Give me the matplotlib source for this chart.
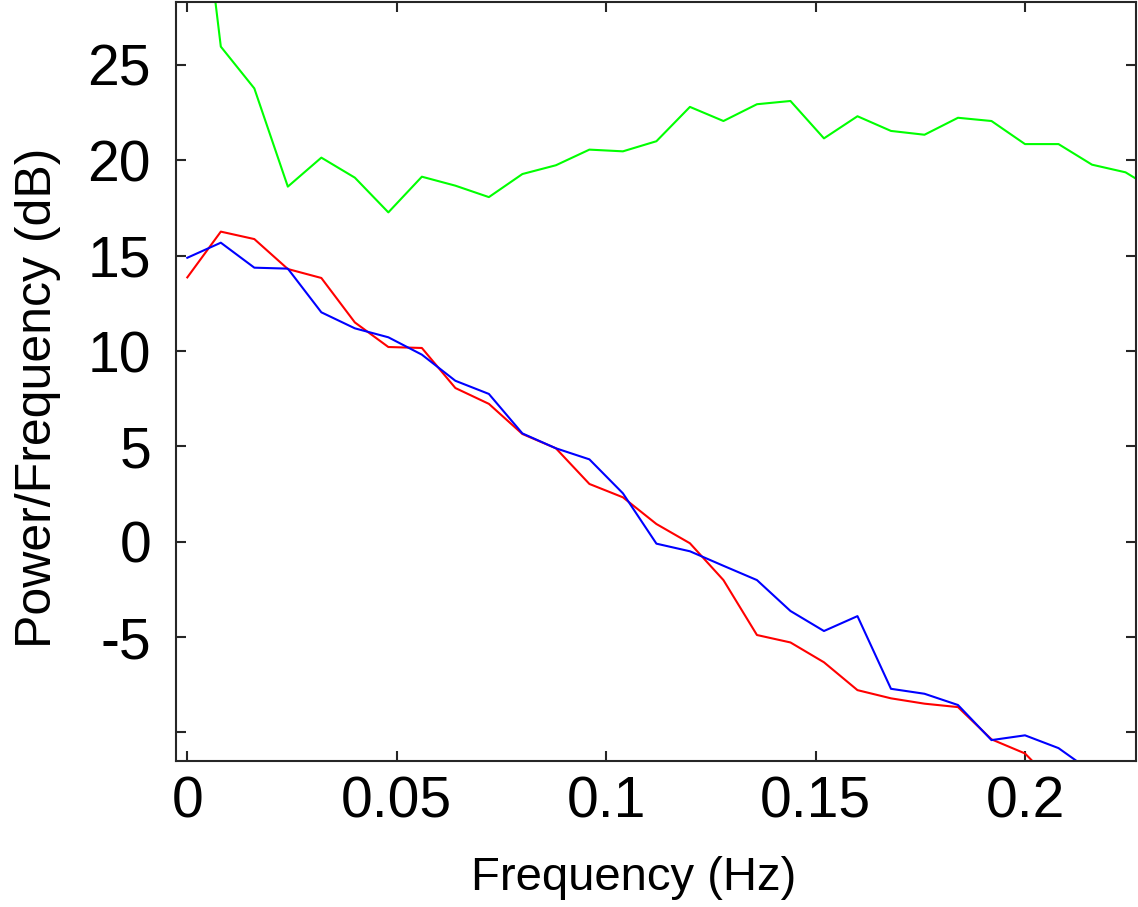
import numpy as np
import matplotlib
matplotlib.use("Agg")
import matplotlib.pyplot as plt

step = 0.008
green = [40.5, 25.96, 23.77, 18.62, 20.14, 19.09, 17.27, 19.14, 18.67, 18.07,
         19.28, 19.74, 20.56, 20.47, 21.0, 22.8, 22.06, 22.94, 23.11, 21.15,
         22.31, 21.54, 21.34, 22.23, 22.06, 20.85, 20.85, 19.77, 19.37, 18.3]
red = [13.86, 16.26, 15.87, 14.30, 13.83, 11.50, 10.21, 10.16, 8.06, 7.23,
       5.65, 4.90, 3.03, 2.33, 0.93, -0.08, -2.01, -4.89, -5.28, -6.32,
       -7.78, -8.21, -8.49, -8.67, -10.36, -11.10, -12.9]
blue = [14.89, 15.68, 14.37, 14.32, 12.03, 11.19, 10.72, 9.81, 8.44, 7.75,
        5.68, 4.90, 4.32, 2.54, -0.10, -0.50, -1.26, -2.01, -3.63, -4.68,
        -3.90, -7.71, -7.97, -8.56, -10.40, -10.15, -10.82, -12.07]

xticks = [0, 0.05, 0.1, 0.15, 0.2]
xticklabels = ["0", "0.05", "0.1", "0.15", "0.2"]
yticks = [-10, -5, 0, 5, 10, 15, 20, 25]
yticklabels = ["", "-5", "0", "5", "10", "15", "20", "25"]

plt.rcParams['font.family'] = ['Liberation Sans', 'DejaVu Sans']

fig = plt.figure(figsize=(11.38, 9.07), dpi=100)
ax = fig.add_axes([176/1138, 1 - 760.7/907, (1136-176)/1138, (760.7-2)/907])

def freqs(vals):
    return np.arange(len(vals)) * step

ax.plot(freqs(green), green, color='#00ff00', lw=1.5)
ax.plot(freqs(red), red, color='#ff0000', lw=1.5)
ax.plot(freqs(blue), blue, color='#0000ff', lw=1.5)

ax.set_xlim(-0.0027, 0.2265)
ax.set_ylim(-11.48, 28.3)
ax.set_xticks(xticks)
ax.set_xticklabels(xticklabels)
ax.set_yticks(yticks)
ax.set_yticklabels(yticklabels)

spine_col = '#262626'
for s in ax.spines.values():
    s.set_linewidth(1.5)
    s.set_color(spine_col)
ax.tick_params(direction='in', length=7.5, width=1.5, color=spine_col,
               top=True, right=True, labelsize=41, labelcolor='black')
ax.tick_params(axis='x', pad=11)
ax.tick_params(axis='y', pad=18)

ax.set_xlabel("Frequency (Hz)", fontsize=34)
ax.set_ylabel("Power/Frequency (dB)", fontsize=36)
ax.xaxis.set_label_coords(0.477, -0.1256)
ax.yaxis.set_label_coords(-0.1203, 0.478)

fig.savefig("out.png", dpi=100)
